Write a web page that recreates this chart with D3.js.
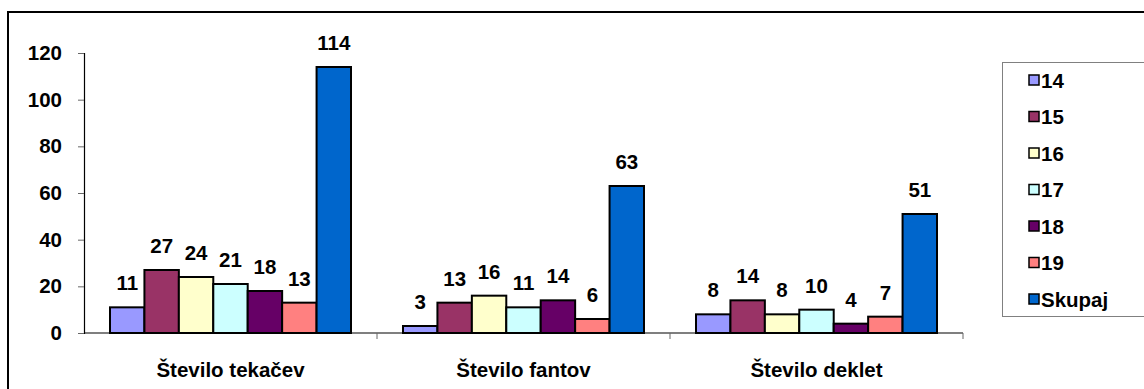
<!DOCTYPE html>
<html>
<head>
<meta charset="utf-8">
<script src="https://cdn.jsdelivr.net/npm/d3@7"></script>
<style>
  html, body { margin: 0; padding: 0; background: #fff; }
  svg { display: block; font-family: "Liberation Sans", Arial, sans-serif; font-weight: bold; }
</style>
</head>
<body>
<svg id="chart" width="1144" height="389"></svg>
<script>
// Runner counts by age group
const categories = ["Število tekačev", "Število fantov", "Število deklet"];
const seriesNames = ["14", "15", "16", "17", "18", "19", "Skupaj"];
const seriesColors = ["#9999FF", "#993366", "#FFFFCC", "#CCFFFF", "#660066", "#FF8080", "#0066CC"];
const values14 = [11, 3, 8];
const values15 = [27, 13, 14];
const values16 = [24, 16, 8];
const values17 = [21, 11, 10];
const values18 = [18, 14, 4];
const values19 = [13, 6, 7];
const valuesSkupaj = [114, 63, 51];
const yTicks = [0, 20, 40, 60, 80, 100, 120];

const seriesValues = [values14, values15, values16, values17, values18, values19, valuesSkupaj];
const FONT = 20.5;

const svg = d3.select("#chart");

// outer chart frame
svg.append("rect")
  .attr("x", 8).attr("y", 12).attr("width", 1160).attr("height", 400)
  .attr("fill", "#fff").attr("stroke", "#000").attr("stroke-width", 2);

const plot = { left: 84, right: 963, top: 53, bottom: 333 };

const x0 = d3.scaleBand().domain(categories).range([plot.left, plot.right]).paddingInner(0).paddingOuter(0);
const x1 = d3.scaleBand().domain(seriesNames).range([26, x0.bandwidth() - 26]).padding(0);
const y = d3.scaleLinear().domain([0, 120]).range([plot.bottom, plot.top]);

// y axis
const yAxis = svg.append("g").attr("transform", `translate(${plot.left},0)`)
  .call(d3.axisLeft(y).tickValues(yTicks).tickSize(6).tickPadding(16).tickFormat(d3.format("d")));
yAxis.select(".domain").attr("stroke", "#000").attr("stroke-width", 1.2);
yAxis.selectAll(".tick line").attr("stroke", "#666");
yAxis.selectAll(".tick text").attr("font-size", FONT).attr("fill", "#000")
  .attr("font-family", "'Liberation Sans', Arial, sans-serif").attr("font-weight", "bold");

// bars
const groups = svg.append("g").selectAll("g").data(categories).join("g")
  .attr("transform", d => `translate(${x0(d)},0)`);

groups.each(function(cat, ci) {
  const g = d3.select(this);
  const rows = seriesNames.map((s, si) => ({ s, v: seriesValues[si][ci], c: seriesColors[si] }));
  g.selectAll("rect").data(rows).join("rect")
    .attr("x", d => x1(d.s))
    .attr("y", d => y(d.v))
    .attr("width", x1.bandwidth())
    .attr("height", d => y(0) - y(d.v))
    .attr("fill", d => d.c)
    .attr("stroke", "#000").attr("stroke-width", 2);
  g.selectAll("text").data(rows).join("text")
    .attr("x", d => x1(d.s) + x1.bandwidth() / 2)
    .attr("y", d => y(d.v) - 17)
    .attr("text-anchor", "middle")
    .attr("font-size", FONT)
    .attr("fill", "#000")
    .text(d => d.v);
});

// x axis with category separators
const xAxis = svg.append("g").attr("transform", `translate(0,${plot.bottom})`);
xAxis.append("line").attr("x1", plot.left).attr("x2", plot.right)
  .attr("stroke", "#000").attr("stroke-width", 1.2);
xAxis.selectAll("line.sep").data(categories).join("line")
  .attr("class", "sep")
  .attr("x1", d => x0(d) + x0.bandwidth())
  .attr("x2", d => x0(d) + x0.bandwidth())
  .attr("y1", 0).attr("y2", 6).attr("stroke", "#666");
svg.append("g").selectAll("text").data(categories).join("text")
  .attr("x", d => x0(d) + x0.bandwidth() / 2)
  .attr("y", 377)
  .attr("text-anchor", "middle")
  .attr("font-size", FONT)
  .attr("fill", "#000")
  .text(d => d);

// legend
const legend = svg.append("g");
legend.append("rect")
  .attr("x", 1002.5).attr("y", 62.5).attr("width", 160).attr("height", 254)
  .attr("fill", "#fff").attr("stroke", "#808080").attr("stroke-width", 1);
const ly = d3.scalePoint().domain(seriesNames).range([80, 299]);
const items = legend.selectAll("g.item").data(seriesNames).join("g").attr("class", "item")
  .attr("transform", d => `translate(1029,${ly(d)})`);
items.append("rect")
  .attr("x", 0).attr("y", -5).attr("width", 10).attr("height", 10)
  .attr("fill", (d, i) => seriesColors[i]).attr("stroke", "#000").attr("stroke-width", 1.5);
items.append("text")
  .attr("x", 12).attr("y", 7.5)
  .attr("font-size", FONT).attr("fill", "#000")
  .text(d => d);
</script>
</body>
</html>
